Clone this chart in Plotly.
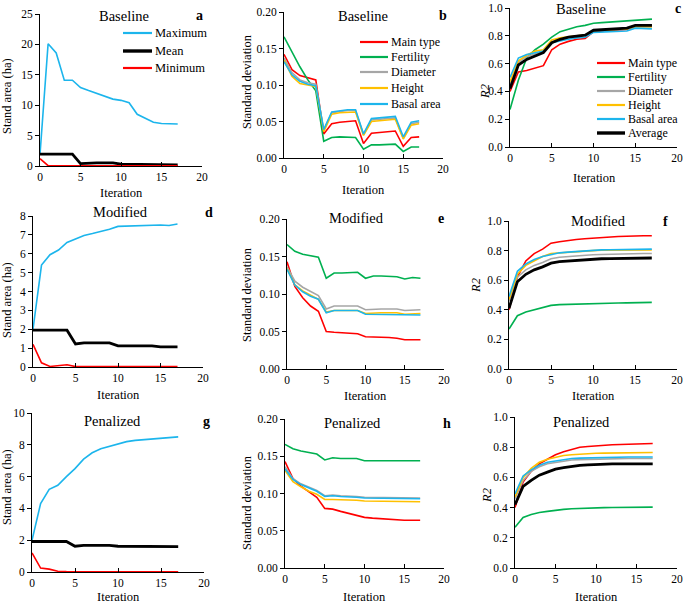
import plotly.graph_objects as go

it = list(range(18))

# ---------- Baseline ----------
a_max = [1.9, 20.1, 18.6, 14.1, 14.1, 12.9, 12.4, 11.9, 11.4, 11.0, 10.8, 10.4, 8.5, 7.8, 7.2, 7.0, 7.0, 6.9]
a_mean = [1.95, 1.95, 1.95, 1.95, 1.95, 0.4, 0.5, 0.5, 0.5, 0.5, 0.3, 0.3, 0.3, 0.3, 0.3, 0.2, 0.2, 0.2]
a_min = [1.2, 0.05, 0.02, 0.02, 0.02, 0.02, 0.02, 0.02, 0.02, 0.02, 0.02, 0.02, 0.02, 0.02, 0.02, 0.02, 0.02, 0.02]

b_main = [0.142, 0.121, 0.113, 0.110, 0.107, 0.033, 0.047, 0.049, 0.050, 0.051, 0.020, 0.034, 0.035, 0.036, 0.037, 0.016, 0.028, 0.029]
b_fert = [0.166, 0.145, 0.125, 0.107, 0.092, 0.023, 0.028, 0.029, 0.029, 0.028, 0.012, 0.018, 0.018, 0.019, 0.019, 0.009, 0.015, 0.015]
b_diam = [0.137, 0.117, 0.107, 0.103, 0.101, 0.038, 0.062, 0.064, 0.065, 0.065, 0.032, 0.052, 0.053, 0.054, 0.055, 0.027, 0.047, 0.049]
b_height = [0.134, 0.112, 0.102, 0.100, 0.098, 0.036, 0.060, 0.062, 0.062, 0.063, 0.031, 0.050, 0.051, 0.052, 0.053, 0.026, 0.045, 0.047]
b_basal = [0.132, 0.114, 0.105, 0.101, 0.099, 0.039, 0.063, 0.065, 0.066, 0.066, 0.033, 0.054, 0.055, 0.056, 0.057, 0.029, 0.049, 0.051]

c_main = [0.40, 0.54, 0.55, 0.565, 0.585, 0.70, 0.74, 0.76, 0.775, 0.78, 0.83, 0.835, 0.84, 0.845, 0.845, 0.87, 0.87, 0.87]
c_fert = [0.27, 0.48, 0.64, 0.70, 0.74, 0.79, 0.83, 0.85, 0.865, 0.875, 0.89, 0.895, 0.90, 0.90, 0.905, 0.915, 0.915, 0.92]
c_diam = [0.45, 0.61, 0.65, 0.67, 0.69, 0.75, 0.77, 0.79, 0.80, 0.805, 0.835, 0.84, 0.845, 0.848, 0.85, 0.865, 0.865, 0.865]
c_height = [0.47, 0.62, 0.66, 0.69, 0.70, 0.77, 0.785, 0.795, 0.80, 0.805, 0.835, 0.84, 0.845, 0.848, 0.85, 0.865, 0.865, 0.865]
c_basal = [0.50, 0.64, 0.665, 0.68, 0.69, 0.75, 0.765, 0.775, 0.785, 0.79, 0.825, 0.828, 0.83, 0.832, 0.835, 0.855, 0.85, 0.85]
c_avg = [0.42, 0.59, 0.63, 0.655, 0.68, 0.75, 0.775, 0.79, 0.80, 0.805, 0.84, 0.845, 0.85, 0.85, 0.855, 0.875, 0.875, 0.875]

# ---------- Modified ----------
d_max = [2.0, 5.4, 5.95, 6.2, 6.6, 6.8, 6.97, 7.07, 7.18, 7.3, 7.45, 7.47, 7.48, 7.49, 7.5, 7.52, 7.5, 7.58]
d_mean = [1.95, 1.95, 1.95, 1.95, 1.95, 1.22, 1.28, 1.28, 1.28, 1.28, 1.12, 1.12, 1.12, 1.12, 1.12, 1.07, 1.07, 1.07]
d_min = [1.2, 0.22, 0.03, 0.08, 0.12, 0.02, 0.02, 0.02, 0.02, 0.02, 0.02, 0.02, 0.02, 0.02, 0.02, 0.02, 0.02, 0.02]

e_main = [0.143, 0.110, 0.095, 0.084, 0.077, 0.050, 0.049, 0.048, 0.047, 0.047, 0.043, 0.043, 0.042, 0.042, 0.041, 0.039, 0.039, 0.039]
e_fert = [0.166, 0.157, 0.153, 0.151, 0.149, 0.121, 0.128, 0.128, 0.129, 0.129, 0.121, 0.124, 0.124, 0.123, 0.123, 0.120, 0.122, 0.121]
e_diam = [0.136, 0.117, 0.109, 0.103, 0.098, 0.080, 0.084, 0.084, 0.084, 0.084, 0.079, 0.080, 0.080, 0.080, 0.080, 0.078, 0.079, 0.079]
e_height = [0.134, 0.112, 0.104, 0.098, 0.093, 0.076, 0.078, 0.078, 0.078, 0.078, 0.074, 0.075, 0.075, 0.075, 0.075, 0.073, 0.074, 0.074]
e_basal = [0.133, 0.112, 0.103, 0.097, 0.093, 0.075, 0.078, 0.078, 0.078, 0.078, 0.073, 0.073, 0.073, 0.073, 0.073, 0.072, 0.072, 0.072]

f_main = [0.40, 0.62, 0.73, 0.78, 0.81, 0.85, 0.86, 0.87, 0.875, 0.88, 0.885, 0.89, 0.893, 0.895, 0.897, 0.90, 0.90, 0.90]
f_fert = [0.27, 0.36, 0.385, 0.40, 0.41, 0.43, 0.435, 0.437, 0.44, 0.44, 0.442, 0.444, 0.445, 0.446, 0.447, 0.448, 0.449, 0.45]
f_diam = [0.46, 0.62, 0.67, 0.70, 0.72, 0.745, 0.755, 0.76, 0.765, 0.77, 0.772, 0.774, 0.776, 0.777, 0.778, 0.779, 0.78, 0.78]
f_height = [0.47, 0.64, 0.70, 0.73, 0.76, 0.78, 0.785, 0.79, 0.795, 0.798, 0.80, 0.802, 0.803, 0.804, 0.804, 0.805, 0.805, 0.805]
f_basal = [0.49, 0.66, 0.71, 0.74, 0.76, 0.775, 0.785, 0.79, 0.795, 0.80, 0.802, 0.805, 0.806, 0.807, 0.808, 0.809, 0.81, 0.81]
f_avg = [0.41, 0.59, 0.64, 0.67, 0.69, 0.715, 0.725, 0.73, 0.735, 0.74, 0.742, 0.745, 0.746, 0.747, 0.748, 0.749, 0.75, 0.75]

# ---------- Penalized ----------
g_max = [2.0, 4.3, 5.2, 5.45, 6.0, 6.5, 7.1, 7.5, 7.75, 7.9, 8.05, 8.2, 8.28, 8.33, 8.38, 8.42, 8.45, 8.5]
g_mean = [1.92, 1.92, 1.92, 1.92, 1.92, 1.62, 1.67, 1.67, 1.67, 1.67, 1.62, 1.62, 1.62, 1.62, 1.62, 1.58, 1.6, 1.6]
g_min = [1.2, 0.25, 0.18, 0.05, 0.03, 0.02, 0.02, 0.02, 0.02, 0.02, 0.02, 0.02, 0.02, 0.02, 0.02, 0.02, 0.02, 0.02]

h_main = [0.143, 0.120, 0.110, 0.102, 0.095, 0.080, 0.079, 0.076, 0.073, 0.070, 0.068, 0.067, 0.066, 0.066, 0.065, 0.064, 0.064, 0.064]
h_fert = [0.166, 0.160, 0.157, 0.155, 0.153, 0.145, 0.148, 0.147, 0.147, 0.147, 0.144, 0.144, 0.144, 0.144, 0.144, 0.143, 0.143, 0.144]
h_diam = [0.136, 0.120, 0.113, 0.108, 0.104, 0.097, 0.098, 0.097, 0.097, 0.096, 0.095, 0.095, 0.095, 0.095, 0.095, 0.094, 0.094, 0.094]
h_height = [0.131, 0.116, 0.109, 0.103, 0.099, 0.092, 0.092, 0.092, 0.092, 0.091, 0.090, 0.090, 0.090, 0.090, 0.090, 0.089, 0.089, 0.089]
h_basal = [0.133, 0.119, 0.112, 0.107, 0.103, 0.096, 0.097, 0.096, 0.096, 0.095, 0.094, 0.094, 0.094, 0.094, 0.094, 0.093, 0.093, 0.093]

i_main = [0.40, 0.57, 0.64, 0.69, 0.72, 0.75, 0.77, 0.785, 0.80, 0.805, 0.81, 0.813, 0.816, 0.818, 0.82, 0.822, 0.823, 0.825]
i_fert = [0.27, 0.335, 0.355, 0.368, 0.375, 0.383, 0.388, 0.392, 0.395, 0.397, 0.399, 0.400, 0.401, 0.401, 0.402, 0.402, 0.403, 0.403]
i_diam = [0.46, 0.58, 0.64, 0.67, 0.69, 0.70, 0.71, 0.715, 0.718, 0.72, 0.722, 0.723, 0.724, 0.724, 0.725, 0.725, 0.725, 0.725]
i_height = [0.47, 0.60, 0.66, 0.70, 0.72, 0.735, 0.745, 0.75, 0.755, 0.757, 0.76, 0.761, 0.762, 0.763, 0.764, 0.764, 0.765, 0.765]
i_basal = [0.49, 0.61, 0.65, 0.68, 0.70, 0.71, 0.72, 0.725, 0.728, 0.73, 0.732, 0.733, 0.734, 0.734, 0.735, 0.735, 0.735, 0.735]
i_avg = [0.42, 0.54, 0.58, 0.615, 0.635, 0.655, 0.665, 0.675, 0.68, 0.683, 0.686, 0.688, 0.689, 0.69, 0.69, 0.69, 0.69, 0.69]

panel_titles = ["Baseline", "Baseline", "Baseline", "Modified", "Modified", "Modified",
                "Penalized", "Penalized", "Penalized"]
panel_letters = ["a", "b", "c", "d", "e", "f", "g", "h", ""]
area_names = ["Maximum", "Mean", "Minimum"]
var_names = ["Main type", "Fertility", "Diameter", "Height", "Basal area", "Average"]
y_titles = ["Stand area (ha)", "Standard deviation", "<i>R2</i>"] * 3
x_title = "Iteration"

BLUE = "#1CB5EC"
RED = "#FF0000"
GREEN = "#00B050"
GRAY = "#A6A6A6"
YELLOW = "#FFC000"
BLACK = "#000000"
FONT = "Liberation Serif"
area_colors = [BLUE, BLACK, RED]
area_widths = [1.6, 2.8, 1.6]
var_colors = [RED, GREEN, GRAY, YELLOW, BLUE, BLACK]
var_widths = [1.6, 1.6, 1.6, 1.6, 1.6, 2.8]

W, H = 685, 605

def px(x):
    return x / W

def py(y):
    return 1 - y / H

# plot areas in pixels: (x0, x1, ytop, ybottom)
boxes = [
    (40, 202, 14, 166), (284, 443, 12, 158), (510, 677, 8, 147),
    (33, 203, 216, 367), (287, 444, 219, 369), (509, 677, 221, 369),
    (32, 204, 413, 572), (285, 444, 419, 568), (515, 677, 417, 568),
]

fig = go.Figure()

def add(idx, y, name, color, width):
    n = idx + 1
    xa = "x" if n == 1 else f"x{n}"
    ya = "y" if n == 1 else f"y{n}"
    fig.add_trace(go.Scatter(x=it, y=y, name=name, mode="lines",
                             line=dict(color=color, width=width),
                             xaxis=xa, yaxis=ya, showlegend=False))

area_sets = [(0, [a_max, a_mean, a_min]), (3, [d_max, d_mean, d_min]),
             (6, [g_max, g_mean, g_min])]
for idx, series in area_sets:
    for s, nm, col, wd in zip(series, area_names, area_colors, area_widths):
        add(idx, s, nm, col, wd)

sd_sets = [(1, [b_main, b_fert, b_diam, b_height, b_basal]),
           (4, [e_main, e_fert, e_diam, e_height, e_basal]),
           (7, [h_main, h_fert, h_diam, h_height, h_basal])]
for idx, series in sd_sets:
    for s, nm, col, wd in zip(series, var_names, var_colors, var_widths):
        add(idx, s, nm, col, wd)

r2_sets = [(2, [c_main, c_fert, c_diam, c_height, c_basal, c_avg]),
           (5, [f_main, f_fert, f_diam, f_height, f_basal, f_avg]),
           (8, [i_main, i_fert, i_diam, i_height, i_basal, i_avg])]
for idx, series in r2_sets:
    for s, nm, col, wd in zip(series, var_names, var_colors, var_widths):
        add(idx, s, nm, col, wd)

yranges = [(25, 5, "d"), (0.2, 0.05, ".2f"), (1.0, 0.2, ".1f"),
           (8, 1, "d"), (0.2, 0.05, ".2f"), (1.0, 0.2, ".1f"),
           (10, 2, "d"), (0.2, 0.05, ".2f"), (1.0, 0.2, ".1f")]

layout = dict(width=W, height=H, margin=dict(l=0, r=0, t=0, b=0, autoexpand=False),
              plot_bgcolor="white", paper_bgcolor="white", showlegend=False,
              font=dict(family=FONT, color="black", size=12))
annotations = []
shapes = []
for k, (x0, x1, yt, yb) in enumerate(boxes):
    n = k + 1
    suf = "" if n == 1 else str(n)
    ymax, dt, fmt = yranges[k]
    layout["xaxis" + suf] = dict(
        domain=[px(x0), px(x1)], anchor="y" + suf, range=[0, 20], dtick=5,
        showline=True, linecolor="black", linewidth=1, ticks="inside", ticklen=4,
        tickcolor="black", showgrid=False, zeroline=False, automargin=False,
        tickfont=dict(family=FONT, size=11.5))
    layout["yaxis" + suf] = dict(
        domain=[py(yb), py(yt)], anchor="x" + suf, range=[0, ymax * 1.0001], dtick=dt,
        tickformat=fmt, showline=True, linecolor="black", linewidth=1, ticks="outside",
        ticklen=4, tickcolor="black", showgrid=False, zeroline=False, automargin=False,
        tickfont=dict(family=FONT, size=11.5))

# axis titles placed as annotations
xt_pos = [(121, 193), (363, 190), (594, 178), (118, 395), (365, 396), (593, 396),
          (118, 597), (364, 597), (596, 597)]
yt_pos = [(7, 96), (247, 82), (485, 92), (7, 300), (247, 295), (476, 286),
          (7, 487), (247, 503), (487, 496)]
for k in range(9):
    xx, yy = xt_pos[k]
    annotations.append(dict(text=x_title, x=px(xx), y=py(yy), xref="paper", yref="paper",
                            showarrow=False, xanchor="center", yanchor="middle",
                            font=dict(family=FONT, size=12.5)))
    xx, yy = yt_pos[k]
    annotations.append(dict(text=y_titles[k], x=px(xx), y=py(yy), xref="paper",
                            yref="paper", showarrow=False, xanchor="center",
                            yanchor="middle", textangle=-90,
                            font=dict(family=FONT, size=12.5)))

title_pos = [(124, 16), (363, 16), (581, 9), (120, 212), (356, 218), (598, 221),
             (112, 421), (352, 423), (581, 422)]
letter_pos = [(200, 16), (443, 16), (678, 9), (209, 212), (441, 218), (665, 221),
              (206, 421), (447, 423), (680, 422)]
for k in range(9):
    tx, ty = title_pos[k]
    annotations.append(dict(text=panel_titles[k], x=px(tx), y=py(ty), xref="paper",
                            yref="paper", showarrow=False, xanchor="center",
                            yanchor="middle", font=dict(family=FONT, size=14.5)))
    if panel_letters[k]:
        lx, ly = letter_pos[k]
        annotations.append(dict(text="<b>" + panel_letters[k] + "</b>", x=px(lx),
                                y=py(ly), xref="paper", yref="paper",
                                showarrow=False, xanchor="center", yanchor="middle",
                                font=dict(family=FONT, size=14)))

# hand-drawn legends (line sample + label)
def legend(names, colors, widths, lx0, lx1, rows, fsize):
    for nm, col, wd, ry in zip(names, colors, widths, rows):
        shapes.append(dict(type="line", xref="paper", yref="paper",
                           x0=px(lx0), x1=px(lx1), y0=py(ry), y1=py(ry),
                           line=dict(color=col, width=wd + 0.6)))
        annotations.append(dict(text=nm, x=px(lx1 + 1), y=py(ry), xref="paper",
                                yref="paper", showarrow=False, xanchor="left",
                                yanchor="middle", font=dict(family=FONT, size=fsize)))

legend(area_names, area_colors, area_widths, 123, 152, [33, 51, 68], 12.5)
legend(var_names[:5], var_colors[:5], var_widths[:5], 360, 388, [42, 57, 72, 88, 104], 12)
legend(var_names, var_colors, var_widths, 597, 625, [63, 77, 91, 105, 119, 133], 12)

layout["annotations"] = annotations
layout["shapes"] = shapes

fig.update_layout(**layout)
fig.write_html("out.html", config={"displayModeBar": False},
               post_script="document.body.style.margin='0px';")
